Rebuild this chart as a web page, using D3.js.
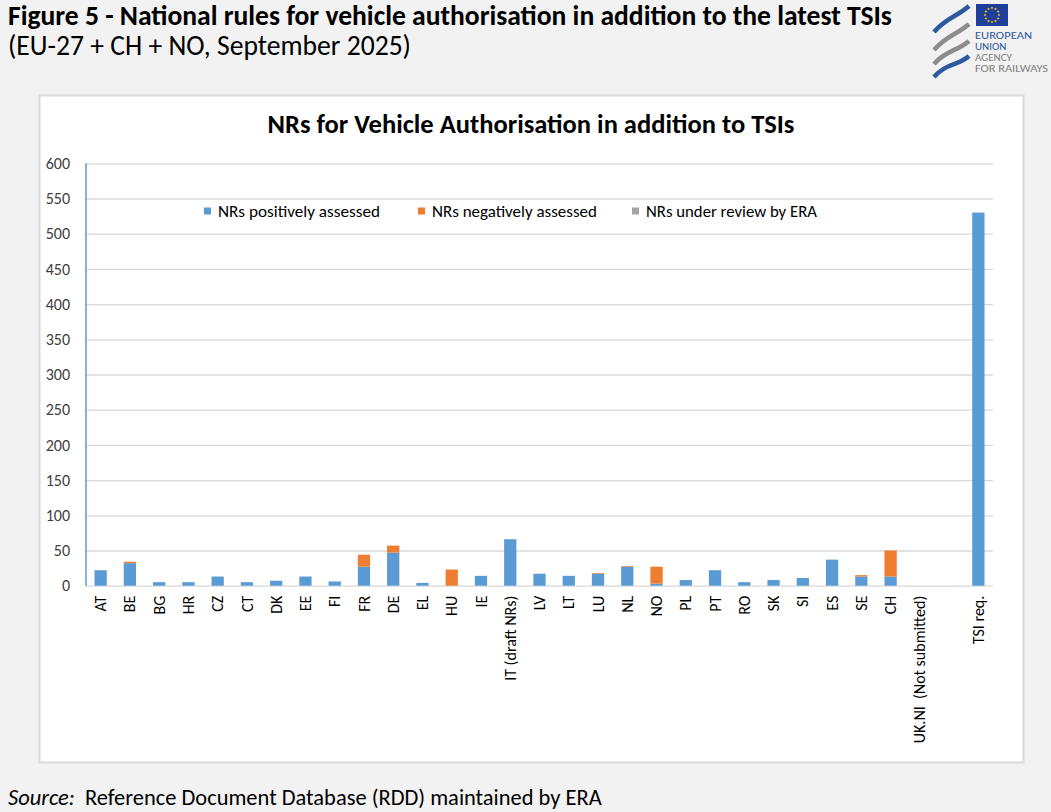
<!DOCTYPE html>
<html>
<head>
<meta charset="utf-8">
<script src="https://cdn.jsdelivr.net/npm/d3@7"></script>
<style>
  html, body { margin: 0; padding: 0; background: #f2f2f2; }
  svg { display: block; }
  text { font-family: Carlito, Calibri, Lato, sans-serif; }
</style>
</head>
<body>
<svg id="chart" width="1051" height="812"></svg>
<script>
// Countries (plus the TSI requirement reference bar); "" is an empty spacer slot
const categories = ["AT","BE","BG","HR","CZ","CT","DK","EE","FI","FR","DE","EL","HU","IE",
  "IT (draft NRs)","LV","LT","LU","NL","NO","PL","PT","RO","SK","SI","ES","SE","CH",
  "UK.NI  (Not submitted)","","TSI req."];

// Number of national rules per category
const positivelyAssessed = [22,32,5,5,13,5,7,13,6,27,47,4,0,14,66,17,14,17,27,3,8,22,5,8,11,37,13,13,0,0,530];
const negativelyAssessed = [0,2,0,0,0,0,0,0,0,17,10,0,23,0,0,0,0,1,1,24,0,0,0,0,0,0,2,37,0,0,0];
const underReview        = [0,0,0,0,0,0,0,0,0,0,0,0,0,0,0,0,0,0,0,0,0,0,0,0,0,0,0,0,0,0,0];

const seriesNames  = ["NRs positively assessed","NRs negatively assessed","NRs under review by ERA"];
const seriesColors = ["#5b9bd5","#ed7d31","#a5a5a5"];
const yTicks = [0,50,100,150,200,250,300,350,400,450,500,550,600];

const svg = d3.select("#chart");

// shrink or grow a text's font so it spans the given width
function fitWidth(sel, width) {
  const node = sel.node();
  const fs = parseFloat(sel.attr("font-size"));
  const w = node.getComputedTextLength();
  sel.attr("font-size", (fs * width / w).toFixed(2));
  return sel;
}

// Page heading
fitWidth(svg.append("text").attr("x", 8).attr("y", 25)
  .attr("font-size", 22).attr("font-weight", "bold").attr("fill", "#000")
  .text("Figure 5 - National rules for vehicle authorisation in addition to the latest TSIs"), 884);
fitWidth(svg.append("text").attr("x", 8).attr("y", 55)
  .attr("font-size", 22).attr("fill", "#000")
  .text("(EU-27 + CH + NO, September 2025)"), 403);

// Agency logo
const logo = svg.append("g");
const stripeColors = ["#2c5aa0", "#8c8c8c", "#8c8c8c", "#2c5aa0"];
const stripeY = [[6, 32], [24, 50], [41, 64], [56, 77]];
stripeColors.forEach((c, i) => {
  const [y0, y1] = stripeY[i];
  logo.append("path")
    .attr("d", `M969,${y0} C958,${y0 + 10} 946,${y1 - 14} 934,${y1}`)
    .attr("fill", "none").attr("stroke", c).attr("stroke-width", 4.5).attr("stroke-linecap", "butt");
});
logo.append("rect").attr("x", 976).attr("y", 4).attr("width", 32).attr("height", 22).attr("fill", "#1f3f9a");
d3.range(12).forEach(i => {
  const a = i * Math.PI / 6;
  logo.append("path")
    .attr("d", d3.symbol(d3.symbolStar, 3)())
    .attr("transform", `translate(${992 + 7 * Math.cos(a)},${15 + 7 * Math.sin(a)})`)
    .attr("fill", "#ffd200");
});
[["EUROPEAN", 39, "#2c5aa0"], ["UNION", 50, "#2c5aa0"], ["AGENCY", 61, "#7f7f7f"], ["FOR RAILWAYS", 72, "#7f7f7f"]]
  .forEach(([t, y, c]) => {
    logo.append("text").attr("x", 975).attr("y", y).attr("font-size", 11)
      .attr("fill", c).attr("font-family", "'Liberation Sans Narrow', 'Roboto Condensed', Roboto, sans-serif")
      .attr("textLength", t === "FOR RAILWAYS" ? 73 : (t === "EUROPEAN" ? 57 : null))
      .attr("lengthAdjust", "spacingAndGlyphs")
      .text(t);
  });

// Chart panel
svg.append("rect").attr("x", 39.5).attr("y", 95.5).attr("width", 984).attr("height", 667)
  .attr("fill", "#fff").attr("stroke", "#d9d9d9").attr("stroke-width", 2);

fitWidth(svg.append("text").attr("x", 531).attr("y", 133).attr("text-anchor", "middle")
  .attr("font-size", 20).attr("font-weight", "bold").attr("fill", "#000")
  .text("NRs for Vehicle Authorisation in addition to TSIs"), 527);

// Scales
const plot = { left: 86, right: 993, top: 163.3, bottom: 585.7 };
const x = d3.scaleBand().domain(categories).range([plot.left, plot.right])
  .paddingInner(0.58).paddingOuter(0.29);
const y = d3.scaleLinear().domain([0, 600]).range([plot.bottom, plot.top]);

// Gridlines and value labels
const yAxis = svg.append("g").attr("transform", `translate(${plot.left},0)`)
  .call(d3.axisLeft(y).tickValues(yTicks).tickSize(-(plot.right - plot.left)).tickPadding(16));
yAxis.select(".domain").remove();
yAxis.selectAll(".tick line").attr("stroke", "#d9d9d9").attr("stroke-width", 1.3);
yAxis.selectAll(".tick text").attr("font-size", 16).attr("fill", "#404040")
  .attr("font-family", "Carlito, Calibri, Lato, sans-serif");

// Vertical axis line
svg.append("line").attr("x1", plot.left).attr("x2", plot.left)
  .attr("y1", y(600)).attr("y2", y(0)).attr("stroke", "#5b9bd5").attr("stroke-width", 1.5);

// Stacked bars
const rows = categories.map((c, i) => ({
  cat: c, pos: positivelyAssessed[i], neg: negativelyAssessed[i], rev: underReview[i]
}));
const stack = d3.stack().keys(["pos", "neg", "rev"]);
const layers = stack(rows);
svg.append("g").selectAll("g").data(layers).join("g")
  .attr("fill", (d, i) => seriesColors[i])
  .selectAll("rect").data(d => d.filter(p => p[1] > p[0])).join("rect")
  .attr("x", d => x(d.data.cat))
  .attr("width", x.bandwidth())
  .attr("y", d => y(d[1]))
  .attr("height", d => y(d[0]) - y(d[1]));

// Category labels
const xAxis = svg.append("g").attr("transform", `translate(0,${plot.bottom})`)
  .call(d3.axisBottom(x).tickSize(0).tickPadding(0));
xAxis.select(".domain").remove();
xAxis.selectAll(".tick text")
  .attr("font-size", 16).attr("fill", "#000")
  .attr("font-family", "Carlito, Calibri, Lato, sans-serif")
  .attr("text-anchor", "end").attr("dy", "0.35em")
  .attr("transform", "translate(0,10) rotate(-90)")
  .attr("x", 0).attr("y", 0)
  .style("white-space", "pre");

// Legend
const legendX = [204, 418, 632];
const legendW = [162, 165, 171];
const legend = svg.append("g");
seriesNames.forEach((n, i) => {
  legend.append("rect").attr("x", legendX[i]).attr("y", 207.5).attr("width", 7).attr("height", 7)
    .attr("fill", seriesColors[i]);
  fitWidth(legend.append("text").attr("x", legendX[i] + 14).attr("y", 216.5).attr("font-size", 15)
    .attr("fill", "#000").text(n), legendW[i]);
});

// Source note
const src = svg.append("text").attr("x", 8).attr("y", 805).attr("font-size", 19).attr("fill", "#000");
src.append("tspan").attr("font-style", "italic").text("Source:");
src.append("tspan").text("\u00a0 Reference Document Database (RDD) maintained by ERA");
fitWidth(src, 594);
</script>
</body>
</html>
